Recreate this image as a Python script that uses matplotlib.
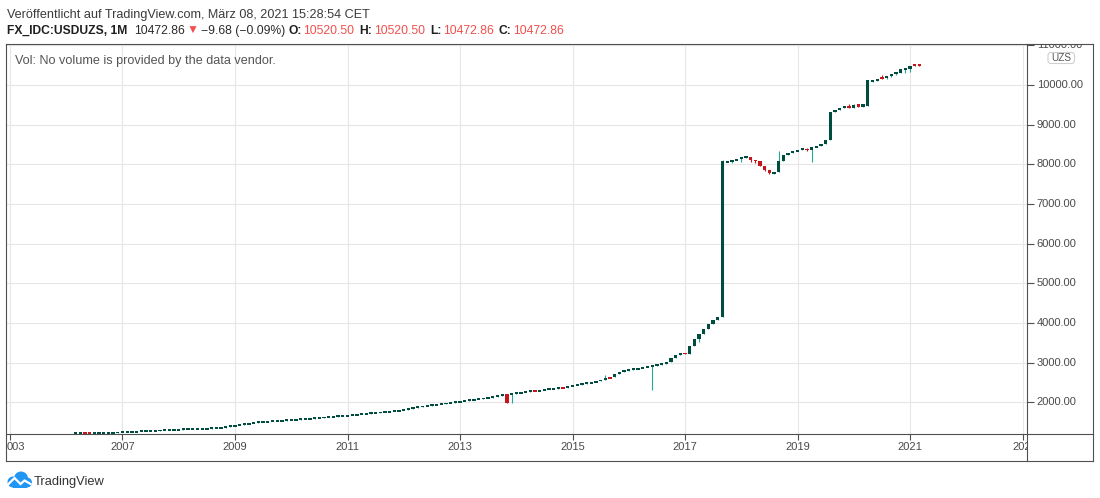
import numpy as np
import matplotlib
matplotlib.use("Agg")
import matplotlib.pyplot as plt
import matplotlib.transforms as mtransforms
from matplotlib.lines import Line2D
from matplotlib.patches import FancyBboxPatch, Circle, Polygon

plt.rcParams['font.family'] = ['Liberation Sans', 'DejaVu Sans']

# ---------------- data ----------------
published = "Veröffentlicht auf TradingView.com, März 08, 2021 15:28:54 CET"
symbol = "FX_IDC:USDUZS, 1M"
last_price = "10472.86"
change_text = "−9.68 (−0.09%)"
ohlc_labels = ["O:", "H:", "L:", "C:"]
ohlc_values = ["10520.50", "10520.50", "10472.86", "10472.86"]
vol_text = "Vol: No volume is provided by the data vendor."
currency = "UZS"
brand = "TradingView"

first_bar = "2006-03"
closes = [
    # 2006 (Mar-Dec)
    1221, 1225, 1223, 1222, 1228, 1231, 1234, 1236, 1238, 1240,
    # 2007
    1250, 1255, 1260, 1265, 1270, 1275, 1280, 1286, 1292, 1298, 1304, 1310,
    # 2008
    1314, 1318, 1322, 1326, 1330, 1334, 1339, 1344, 1350, 1362, 1385, 1405,
    # 2009
    1420, 1437, 1452, 1470, 1487, 1500, 1509, 1517, 1525, 1533, 1541, 1549,
    # 2010
    1557, 1565, 1573, 1581, 1590, 1600, 1611, 1622, 1632, 1641, 1650, 1660,
    # 2011
    1672, 1685, 1695, 1705, 1715, 1725, 1736, 1748, 1760, 1772, 1784, 1796,
    # 2012
    1808, 1838, 1866, 1885, 1902, 1918, 1933, 1948, 1963, 1978, 1993, 2010,
    # 2013
    2028, 2043, 2058, 2073, 2088, 2104, 2120, 2138, 2158, 2188, 1995, 2215,
    # 2014
    2234, 2258, 2270, 2282, 2277, 2310, 2327, 2335, 2348, 2372, 2368, 2410,
    # 2015
    2428, 2444, 2466, 2486, 2503, 2537, 2562, 2620, 2605, 2705, 2770, 2796,
    # 2016
    2821, 2839, 2856, 2878, 2900, 2925, 2950, 2972, 3008, 3108, 3191, 3234,
    # 2017
    3226, 3418, 3594, 3720, 3841, 3965, 4081, 4149, 8083, 8065, 8100, 8125,
    # 2018
    8176, 8190, 8108, 8083, 7957, 7857, 7790, 7807, 8075, 8235, 8285, 8328,
    # 2019
    8361, 8395, 8365, 8430, 8462, 8518, 8610, 9322, 9380, 9423, 9465, 9423,
    # 2020
    9490, 9448, 9532, 10136, 10119, 10161, 10153, 10237, 10254, 10304, 10396, 10430,
    # 2021 (Jan-Mar)
    10472, 10482.54, 10472.86,
]
open_overrides = {
    "2006-03": 1219, "2013-11": 2200, "2013-12": 2200, "2015-10": 2630,
    "2017-10": 8050, "2018-08": 7765, "2018-09": 7815, "2019-03": 8385,
    "2020-02": 9515, "2020-04": 9473, "2020-05": 10068, "2020-06": 10110,
    "2020-07": 10178, "2020-08": 10169, "2020-10": 10279, "2020-11": 10312,
    "2020-12": 10380, "2021-01": 10413, "2021-02": 10514, "2021-03": 10520.50,
}
high_overrides = {
    "2013-11": 2200, "2015-08": 2690, "2017-09": 8108, "2018-02": 8215,
    "2018-09": 8336, "2019-03": 8405, "2019-12": 9515, "2020-01": 9530,
    "2020-07": 10240, "2020-09": 10290, "2020-10": 10330, "2021-02": 10540,
    "2021-03": 10520.50,
}
low_overrides = {
    "2013-12": 1990, "2016-06": 2320, "2017-04": 3526, "2017-11": 8030,
    "2018-01": 8058, "2018-02": 8160, "2018-03": 8070, "2018-04": 8030,
    "2018-06": 7830, "2018-07": 7760, "2019-03": 8340, "2019-04": 8058,
    "2020-01": 9420, "2020-03": 9448, "2020-08": 10150, "2020-09": 10200,
    "2020-10": 10250, "2020-12": 10300, "2021-01": 10330, "2021-02": 10470,
    "2021-03": 10472.86,
}

price_ticks = [2000, 3000, 4000, 5000, 6000, 7000, 8000, 9000, 10000, 11000]
time_tick_dates = ["2005-01", "2007-01", "2009-01", "2011-01", "2013-01", "2015-01",
                   "2017-01", "2019-01", "2021-01", "2023-01"]
time_tick_labels = ["003", "2007", "2009", "2011", "2013", "2015",
                    "2017", "2019", "2021", "2023"]

# ---------------- style / layout ----------------
W, H, DPI = 1100, 498, 100
BODY_UP = "#004d40"
WICK_UP = "#26a69a"
RED = "#c4161c"
RED_TXT = "#f0504d"
GRID = "#e6e6e6"
FRAME = "#4f4f4f"
LABEL = "#4a4a4a"

PL, PR, PT, PB = 6, 1027, 44, 434   # main pane (pixels)
RR, TB = 1093, 461                   # right edge / bottom of time scale
X_ORIGIN, PX_PER_BAR = 122.5, 4.6875  # pixel of the Jan-2007 bar, bar spacing
Y_LO, Y_HI = 1201, 11034


def month_index(s):
    y, m = map(int, s.split("-"))
    return (y - 2007) * 12 + (m - 1)


def bar_key(i):
    y0, m0 = map(int, first_bar.split("-"))
    k = m0 - 1 + i
    return f"{y0 + k // 12}-{k % 12 + 1:02d}"


n = len(closes)
keys = [bar_key(i) for i in range(n)]
xs = np.array([month_index(k) for k in keys], dtype=float)
c = np.array(closes, dtype=float)
o = np.array([open_overrides.get(k, closes[i - 1] if i > 0 else closes[0])
              for i, k in enumerate(keys)], dtype=float)
h = np.array([high_overrides.get(k, max(o[i], c[i])) for i, k in enumerate(keys)])
l = np.array([low_overrides.get(k, min(o[i], c[i])) for i, k in enumerate(keys)])

fig = plt.figure(figsize=(W / DPI, H / DPI), dpi=DPI)
fig.patch.set_facecolor("white")
PX = mtransforms.IdentityTransform()


def rect(x0, y0, x1, y1):
    return [x0 / W, 1 - y1 / H, (x1 - x0) / W, (y1 - y0) / H]


ax = fig.add_axes(rect(PL, PT, PR, PB))
axp = fig.add_axes(rect(PR, PT, RR, PB), sharey=ax)
axt = fig.add_axes(rect(PL, PB, PR, TB), sharex=ax)

ax.set_xlim((PL - X_ORIGIN) / PX_PER_BAR, (PR - X_ORIGIN) / PX_PER_BAR)
ax.set_ylim(Y_LO, Y_HI)

tick_pos = [month_index(d) for d in time_tick_dates]
ax.set_xticks(tick_pos)
ax.set_yticks(price_ticks)
ax.grid(True, color=GRID, lw=0.8)
ax.set_axisbelow(True)
ax.tick_params(length=0, labelbottom=False, labelleft=False)
for a in (ax, axp, axt):
    for sp in a.spines.values():
        sp.set_visible(False)
    a.set_facecolor("white")

# candles
up = c >= o
dn = ~up
MIN_BODY = 48.0
bot = np.minimum(o, c)
hgt = np.abs(c - o)
small = hgt < MIN_BODY
mid = (o + c) / 2
bot = np.where(small, mid - MIN_BODY / 2, bot)
hgt = np.where(small, MIN_BODY, hgt)

ax.vlines(xs[up], l[up], h[up], color=WICK_UP, lw=0.8, zorder=2)
ax.vlines(xs[dn], l[dn], h[dn], color=RED, lw=0.8, zorder=2)
ax.bar(xs[up], hgt[up], bottom=bot[up], width=0.7, color=BODY_UP, linewidth=0, zorder=3)
ax.bar(xs[dn], hgt[dn], bottom=bot[dn], width=0.7, color=RED, linewidth=0, zorder=3)

# price scale
axp.set_xlim(0, 1)
axp.tick_params(axis='y', which='both', left=True, right=False, direction='in',
                length=5, width=0.8, color=FRAME, labelleft=False)
axp.tick_params(axis='x', which='both', bottom=False, labelbottom=False)
tp = mtransforms.blended_transform_factory(axp.transAxes, axp.transData)
for v in price_ticks:
    axp.text(0.147, v, f"{v:.2f}", transform=tp, ha='left', va='center',
             fontsize=8, color=LABEL, clip_on=True)

# time scale
axt.set_ylim(0, 1)
axt.tick_params(axis='x', which='both', top=True, bottom=False, direction='in',
                length=4, width=0.8, color=FRAME, labeltop=False, labelbottom=False)
axt.tick_params(axis='y', which='both', left=False, labelleft=False)
tt = mtransforms.blended_transform_factory(axt.transData, axt.transAxes)
for k, (pos, lab) in enumerate(zip(tick_pos, time_tick_labels)):
    if k == 0:
        # leftmost label is shown truncated ("003") just right of the frame
        tr = mtransforms.offset_copy(tt, fig=fig, x=-3, y=0, units='dots')
        axt.text(pos, 0.53, lab, transform=tr, ha='left', va='center',
                 fontsize=8, color=LABEL, clip_on=True)
    else:
        tr = mtransforms.offset_copy(tt, fig=fig, x=(2.5 if k == len(tick_pos) - 1 else 0),
                                     y=0, units='dots')
        axt.text(pos, 0.53, lab, transform=tr, ha='center', va='center',
                 fontsize=8, color=LABEL, clip_on=True)

# frame lines
def line(x0, y0, x1, y1, col=FRAME, lw=0.8):
    fig.add_artist(Line2D([x0, x1], [H - y0, H - y1], transform=PX, color=col, lw=lw))

line(PL, PT, RR, PT)
line(PL, TB, RR, TB)
line(PL, PT, PL, TB)
line(RR, PT, RR, TB)
line(PR, PT, PR, TB)
line(PL, PB, RR, PB)

# texts
renderer = fig.canvas.get_renderer()


def fit_text(x, y, s, target_w, base_fs=9, **kw):
    t = fig.text(x, H - y, s, transform=PX, fontsize=base_fs, va='baseline', ha='left', **kw)
    w = t.get_window_extent(renderer).width
    t.set_fontsize(base_fs * target_w / w)
    return t


def place_run(x0, y, pieces, target_w, base_fs=9):
    items = []
    for s, wt, col, gap in pieces:
        t = fig.text(0, H - y, s, transform=PX, fontsize=base_fs, fontweight=wt,
                     color=col, va='baseline', ha='left')
        items.append((t, gap))
    widths = [t.get_window_extent(renderer).width for t, _ in items]
    gaps = sum(g for _, g in items[:-1])
    scale = (target_w - gaps) / sum(widths)
    x = x0
    for (t, gap), w in zip(items, widths):
        t.set_fontsize(base_fs * scale)
        t.set_x(x)
        x += w * scale + gap


fit_text(7, 17.5, published, 364, color="#3b3b3b")
pieces = [(symbol, 'bold', "#1f1f1f", 5.5), (last_price, 'normal', "#2b2b2b", 1.0),
          ("▼", 'normal', RED_TXT, 3.0), (change_text, 'normal', "#2b2b2b", 3.6)]
gap_after = [(0.7, 5.0), (2.0, 5.0), (2.0, 4.6), (1.3, 0.0)]
for lab, val, (g1, g2) in zip(ohlc_labels, ohlc_values, gap_after):
    pieces.append((lab, 'bold', "#1f1f1f", g1))
    pieces.append((val, 'normal', RED_TXT, g2))
place_run(7, 34, pieces, 557)
fit_text(15, 64, vol_text, 260, color="#555555")

# currency badge
bx0, by0, bx1, by1 = 1048, 52.5, 1074.5, 63.5
fig.add_artist(FancyBboxPatch((bx0, H - by1), bx1 - bx0, by1 - by0, transform=PX,
                              boxstyle="round,pad=0,rounding_size=3", fc="white",
                              ec="#cfcfcf", lw=0.8))
fig.text((bx0 + bx1) / 2, H - (by0 + by1) / 2, currency, transform=PX, ha='center',
         va='center', fontsize=7.2, color="#555555")

# logo
axl = fig.add_axes(rect(6, 471, 32, 488))
axl.set_xlim(0, 26)
axl.set_ylim(0, 17)
axl.axis('off')
BLUE = "#2196f3"
for cx, cy, r in [(7.0, 6.0, 5.5), (15.0, 9.5, 7.0), (21.0, 5.5, 5.0)]:
    axl.add_patch(Circle((cx, cy), r, fc=BLUE, ec='none'))
axl.add_patch(Polygon([(7, 0.5), (21, 0.5), (21, 6), (7, 6)], fc=BLUE, ec='none'))
axl.plot([1.5, 8.5, 14.5, 18.5, 25.5], [3.0, 10.0, 4.0, 7.5, 3.5], color="white",
         lw=1.6, solid_capstyle='butt', solid_joinstyle='miter')
fit_text(34, 484.5, brand, 71, color="#333333")

fig.savefig("out.png", dpi=DPI)
